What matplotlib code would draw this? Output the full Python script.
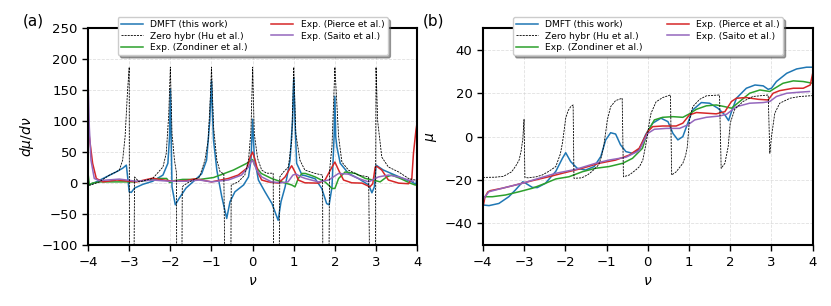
import matplotlib
matplotlib.use("Agg")
import matplotlib.pyplot as plt

# ---- panel (b): mu(nu) ----
dmft_mu_x = [-4.0, -3.85, -3.61, -3.37, -3.21, -3.03, -2.96, -2.8, -2.68, -2.48, -2.23, -2.07, -1.99,
             -1.87, -1.71, -1.51, -1.3, -1.14, -1.02, -0.9, -0.78, -0.66, -0.53, -0.37, -0.21, -0.05,
             0.12, 0.32, 0.49, 0.61, 0.73, 0.85, 0.97, 1.09, 1.3, 1.5, 1.7, 1.87, 1.96, 2.03, 2.15,
             2.39, 2.6, 2.8, 2.92, 3.0, 3.12, 3.37, 3.61, 3.85, 4.0]
dmft_mu_y = [-31.5, -31.8, -30.8, -27.7, -24.6, -20.8, -21.5, -23.4, -23.5, -21.5, -16.0, -10.0, -7.4,
             -11.5, -14.6, -15.4, -13.8, -9.2, -1.5, 1.8, 1.2, -3.8, -6.9, -7.7, -6.0, 1.0,
             6.2, 8.5, 6.9, 1.5, -1.5, 0.0, 6.2, 12.3, 15.7, 15.4, 13.1, 10.0, 7.4, 11.5, 17.7,
             22.3, 23.8, 23.4, 21.8, 22.3, 25.4, 29.2, 31.2, 32.0, 32.0]

hu_mu_x = [-4.0, -3.7, -3.5, -3.3, -3.2, -3.12, -3.07, -3.03, -3.0, -2.98, -2.9, -2.7, -2.56, -2.4,
           -2.23, -2.12, -2.07, -2.02, -1.99, -1.93, -1.87, -1.81, -1.79, -1.6, -1.45, -1.35, -1.19,
           -1.12, -1.07, -1.02, -0.98, -0.9, -0.78, -0.62, -0.59, -0.45, -0.3, -0.2, -0.12, -0.05,
           0.0, 0.04, 0.08, 0.2, 0.36, 0.55, 0.58, 0.69, 0.85, 0.92, 0.96, 1.01, 1.09, 1.26, 1.42,
           1.74, 1.78, 1.87, 1.95, 2.0, 2.11, 2.31, 2.55, 2.92, 2.96, 3.0, 3.08, 3.2, 3.45, 3.69, 4.0]
hu_mu_y = [-18.8, -18.7, -18.3, -16.2, -13.5, -10.8, -6.5, -1.0, 8.0, -18.8, -19.0, -18.5, -17.7, -16.0,
           -13.8, -8.0, -3.0, 4.0, 8.5, 12.0, 13.8, 14.6, -19.2, -19.0, -17.5, -16.0, -13.0,
           -9.0, -4.6, 2.0, 7.7, 13.8, 16.6, 17.7, -18.5, -17.7, -15.5, -13.8, -10.8, -4.0,
           1.5, 7.0, 10.8, 16.0, 18.0, 19.2, -17.7, -16.2, -12.3, -8.5, -4.6, 7.7, 13.8, 17.2, 18.8,
           19.2, -14.6, -12.3, -4.6, 6.2, 12.6, 16.2, 18.5, 19.2, -7.7, 0.0, 10.8, 15.4, 17.7, 18.5, 18.9]

zond_mu_x = [-4.0, -3.97, -3.77, -3.45, -3.12, -2.8, -2.48, -2.23, -1.91, -1.59, -1.27, -0.94, -0.61,
             -0.37, -0.13, 0.0, 0.16, 0.36, 0.61, 0.85, 1.01, 1.18, 1.42, 1.66, 1.87, 2.03, 2.23,
             2.47, 2.72, 2.96, 3.08, 3.28, 3.53, 3.77, 4.0]
zond_mu_y = [-31.0, -27.7, -27.7, -26.9, -25.4, -23.8, -21.5, -19.5, -18.5, -16.2, -14.6, -13.8, -12.3,
             -10.0, -5.4, 2.3, 7.7, 8.9, 9.2, 8.9, 10.5, 12.6, 14.2, 14.6, 13.8, 13.1, 16.2,
             20.0, 21.5, 20.8, 22.3, 24.6, 25.7, 25.4, 24.6]

pierce_mu_x = [-4.0, -3.95, -3.88, -3.82, -3.53, -3.21, -2.8, -2.4, -1.99, -1.59, -1.18, -0.78, -0.45,
               -0.21, 0.0, 0.12, 0.36, 0.69, 0.85, 1.01, 1.18, 1.42, 1.66, 1.87, 2.03, 2.15, 2.39,
               2.68, 2.92, 3.04, 3.2, 3.53, 3.77, 3.94, 4.0]
pierce_mu_y = [-33.0, -28.0, -25.5, -24.9, -23.8, -22.3, -20.3, -18.5, -16.5, -14.6, -12.3, -10.8, -8.5,
               -5.4, 2.3, 4.6, 4.9, 4.9, 6.2, 10.0, 11.1, 10.8, 10.5, 11.5, 16.2, 17.7, 18.0,
               17.2, 16.9, 20.0, 21.2, 22.3, 22.3, 23.8, 29.2]

saito_mu_x = [-4.0, -3.96, -3.85, -3.53, -3.04, -2.64, -2.23, -1.75, -1.27, -0.94, -0.53, -0.21, 0.0,
              0.16, 0.45, 0.77, 0.97, 1.14, 1.42, 1.74, 1.91, 2.15, 2.47, 2.8, 2.96, 3.12, 3.37,
              3.69, 3.92]
saito_mu_y = [-30.0, -28.0, -25.4, -23.8, -21.5, -19.2, -16.9, -15.1, -12.3, -10.8, -9.5, -6.5, 1.5,
              3.4, 3.8, 3.8, 5.4, 7.7, 8.9, 9.5, 10.3, 13.8, 15.4, 15.7, 16.2, 18.5, 20.0,
              20.5, 20.8]

# ---- panel (a): dmu/dnu ----
dmft_d_x = [-3.98, -3.8, -3.56, -3.32, -3.16, -3.07, -3.0, -2.95, -2.87, -2.67, -2.43, -2.18, -2.06,
            -2.02, -2.0, -1.98, -1.96, -1.88, -1.78, -1.62, -1.4, -1.24, -1.12, -1.04, -1.0, -0.97,
            -0.95, -0.87, -0.75, -0.63, -0.55, -0.43, -0.22, -0.1, -0.04, 0.0, 0.04, 0.14, 0.3,
            0.47, 0.62, 0.69, 0.79, 0.91, 0.97, 1.0, 1.03, 1.07, 1.2, 1.28, 1.52, 1.68, 1.8, 1.86,
            1.93, 1.98, 2.0, 2.02, 2.05, 2.13, 2.33, 2.57, 2.82, 2.9, 2.96, 3.0, 3.18, 3.46, 3.71,
            3.87, 3.97, 4.0]
dmft_d_y = [-3, 2, 10, 18, 24, 29, -14, -15, -8, -2, 3, 13, 32,
            75, 152, 75, -6, -35, -24, -8, 5, 15, 37, 102, 165, 102,
            69, 21, -22, -57, -30, -14, -3, 10, 37, 103, 42, 5, -14,
            -33, -60, -30, -6, 37, 100, 170, 100, 32, 13, 12, 7, -8.6, -33, -35,
            -6, 75, 140, 75, 58, 32, 15.6, 7.5, -3, -15.6, -6, 29, 21, 13, 6,
            2, -2, 10]

hu_d_x = [-3.98, -3.93, -3.73, -3.48, -3.32, -3.24, -3.16, -3.1, -3.04, -3.0, -2.99, -2.91, -2.87,
          -2.76, -2.43, -2.18, -2.1, -2.04, -2.0, -1.96, -1.9, -1.85, -1.84, -1.74, -1.71, -1.66,
          -1.54, -1.29, -1.16, -1.08, -1.02, -1.0, -0.95, -0.87, -0.79, -0.7, -0.63, -0.55, -0.52,
          -0.35, -0.19, -0.1, -0.04, 0.0, 0.04, 0.12, 0.22, 0.34, 0.5, 0.53, 0.62, 0.66, 0.75,
          0.87, 0.95, 1.0, 1.05, 1.15, 1.27, 1.52, 1.7, 1.72, 1.83, 1.87, 1.93, 2.0, 2.09, 2.17,
          2.33, 2.57, 2.82, 2.89, 2.97, 3.0, 3.04, 3.14, 3.3, 3.55, 3.79, 3.95, 4.0]
hu_d_y = [-3, -3, 2, 13, 18, 21, 37, 75, 150, 187, -400, -400, 10,
          2, 7.5, 26, 48, 110, 187, 80, 37, 16, -400, -400, -6, -3,
          2, 10, 37, 69, 150, 187, 91, 37, 18, 15, -400, -400, -3,
          2, 13, 37, 85, 187, 80, 40, 21, 16, 16, -400, -400, 10, 18,
          26, 69, 187, 80, 37, 21, 15.6, 13, -400, -400, 20, 60, 187, 75, 34,
          21, 13, 10, -400, -400, 187, 100, 42, 26, 18, 7.5, 5, 5]

zond_d_x = [-4.0, -3.97, -3.9, -3.7, -3.3, -2.9, -2.5, -2.3, -2.09, -2.02, -1.9, -1.7, -1.28, -0.95,
            -0.47, -0.14, 0.0, 0.05, 0.21, 0.46, 0.7, 0.95, 1.03, 1.11, 1.2, 1.28, 1.4, 1.52, 1.76,
            1.93, 2.0, 2.09, 2.25, 2.5, 2.74, 2.93, 3.1, 3.26, 3.38, 3.59, 3.83, 3.95, 4.0]
zond_d_y = [15, -3, 0, 2, 2, 2, 5, 7.5, 7.5, 1, 4, 6, 6, 9,
            21, 32, 38, 29, 15.6, 7.5, 2, -3, -6, 7.5, 15.6, 15.6, 13, 10, 2,
            -8.6, -8.6, 7.5, 18, 15.6, 7.5, 5, 2, 10, 13, 7.5, 0, -3, -3]

pierce_d_x = [-4.0, -3.97, -3.89, -3.8, -3.64, -3.3, -2.83, -2.43, -2.27, -1.94, -1.62, -1.4, -1.0,
              -0.59, -0.35, -0.14, -0.06, 0.0, 0.06, 0.14, 0.22, 0.38, 0.63, 0.79, 0.91, 0.95, 1.03,
              1.11, 1.27, 1.6, 1.76, 1.93, 2.0, 2.09, 2.21, 2.41, 2.66, 2.85, 2.92, 2.98, 3.02, 3.14,
              3.3, 3.55, 3.79, 3.87, 3.91, 3.97, 4.0]
pierce_d_y = [95, 75, 32, 7.5, 2, 5, 2, 8, 6, 3, 4, 7, 2,
              7.5, 13, 24, 42, 50, 37, 15.6, 5, 2, 0, 10, 24, 28, 18,
              5, 0.5, 0, 5, 26, 34, 21, 5, 0.5, 0, -6, -1, 26, 27, 21,
              5, 0, -1, 7.5, 48, 85, 98]

saito_d_x = [-4.0, -3.97, -3.93, -3.85, -3.73, -3.24, -2.83, -2.43, -2.02, -1.62, -1.29, -1.0, -0.59,
             -0.27, -0.1, -0.02, 0.02, 0.1, 0.22, 0.46, 0.7, 0.86, 0.98, 1.06, 1.18, 1.28, 1.6, 1.85,
             2.09, 2.33, 2.57, 2.82, 3.06, 3.3, 3.55, 3.79, 3.91]
saito_d_y = [165, 90, 37, 7.5, 4, 6.5, 3, 5, 3, 3, 5, 2, 5,
             13, 26, 37, 34, 21, 10, 2, 0.5, 2, 13, 14.5, 10, 7.5, 2, 5,
             15.6, 14.5, 7.5, 2, 10, 13, 10, 5, 3]

labels = ["DMFT (this work)", "Zero hybr (Hu et al.)", "Exp. (Zondiner et al.)",
          "Exp. (Pierce et al.)", "Exp. (Saito et al.)"]
colors = ["#1f77b4", "k", "#2ca02c", "#d62728", "#9467bd"]

plt.rcParams['font.family'] = 'DejaVu Sans'
fig = plt.figure(figsize=(8.31, 3.06), dpi=100)
ax1 = fig.add_axes([0.106, 0.199, 0.396, 0.709])
ax2 = fig.add_axes([0.581, 0.199, 0.397, 0.709])


def draw(ax, data):
	for (x, y), lab, c in zip(data, labels, colors):
		if c == "k":
			ax.plot(x, y, color=c, lw=0.6, ls=(0, (2.5, 1.2)), label=lab, zorder=3)
		else:
			ax.plot(x, y, color=c, lw=1.1, label=lab, zorder=2)
	ax.set_xlim(-4, 4)
	ax.set_xticks(range(-4, 5))
	ax.grid(True, ls='--', color='#cccccc', lw=0.6, alpha=0.6)
	ax.set_xlabel(r"$\nu$", fontsize=10)
	ax.tick_params(labelsize=9.5, width=1.0, length=4)
	for s in ax.spines.values():
		s.set_linewidth(1.5)
	ax.legend(loc='upper center', bbox_to_anchor=(0.5, 1.072), ncol=2, fontsize=6.6,
			  shadow=True, framealpha=1, handlelength=2.4, columnspacing=2.6,
			  borderpad=0.35, labelspacing=0.25)


draw(ax1, [(dmft_d_x, dmft_d_y), (hu_d_x, hu_d_y), (zond_d_x, zond_d_y),
           (pierce_d_x, pierce_d_y), (saito_d_x, saito_d_y)])
ax1.set_ylim(-100, 250)
ax1.set_yticks(range(-100, 251, 50))
ax1.set_ylabel(r"$d\mu/d\nu$", fontsize=10)

draw(ax2, [(dmft_mu_x, dmft_mu_y), (hu_mu_x, hu_mu_y), (zond_mu_x, zond_mu_y),
           (pierce_mu_x, pierce_mu_y), (saito_mu_x, saito_mu_y)])
ax2.set_ylim(-50, 50)
ax2.set_yticks(range(-40, 41, 20))
ax2.set_ylabel(r"$\mu$", fontsize=10)

fig.text(0.027, 0.93, "(a)", fontsize=11, va='center')
fig.text(0.509, 0.93, "(b)", fontsize=11, va='center')

fig.savefig("out.png", dpi=100)
